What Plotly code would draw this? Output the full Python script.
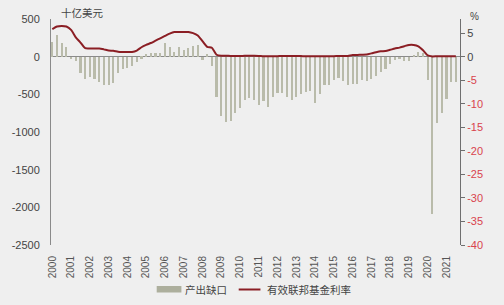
import plotly.graph_objects as go

years = list(range(2000, 2022))
quarters = [f"{y}Q{q}" for y in years for q in range(1, 5)][:87]

output_gap = [
    190, 285, 180, 130,
    -35, -55, -220, -290,
    -270, -290, -335, -380,
    -380, -350, -220, -160,
    -150, -120, -70, -25,
    40, 55, 55, 55,
    175, 130, 65, 125,
    93, 110, 138, 155,
    -40, 35, -130, -540,
    -790, -870, -855, -745,
    -680, -570, -550, -575,
    -635, -590, -665, -535,
    -480, -480, -530, -580,
    -530, -500, -470, -455,
    -610, -490, -370, -375,
    -315, -285, -320, -377,
    -365, -365, -306, -320,
    -297, -262, -209, -164,
    -100, -50, -30, -55,
    -60, 10, 65, 50,
    -310, -2090, -880, -745,
    -558, -337, -337,
]

fed_funds = [
    5.85, 6.4, 6.5, 6.4,
    5.7, 4.1, 3.0, 1.8,
    1.75, 1.75, 1.75, 1.55,
    1.3, 1.25, 1.05, 1.0,
    1.0, 1.0, 1.3, 2.0,
    2.5, 2.9, 3.4, 3.9,
    4.4, 4.9, 5.25, 5.25,
    5.25, 5.25, 5.0, 4.5,
    3.3, 2.1, 1.9, 0.4,
    0.18, 0.18, 0.16, 0.12,
    0.13, 0.19, 0.19, 0.19,
    0.16, 0.09, 0.08, 0.07,
    0.10, 0.15, 0.14, 0.16,
    0.14, 0.12, 0.08, 0.09,
    0.07, 0.09, 0.09, 0.10,
    0.11, 0.13, 0.14, 0.16,
    0.36, 0.37, 0.40, 0.45,
    0.70, 0.95, 1.15, 1.20,
    1.45, 1.74, 1.92, 2.22,
    2.50, 2.50, 2.20, 1.35,
    0.25, 0.06, 0.09, 0.09,
    0.08, 0.07, 0.08,
]

left_ticks = [500, 0, -500, -1000, -1500, -2000, -2500]
right_ticks = [5, 0, -5, -10, -15, -20, -25, -30, -35, -40]
year_labels = [str(y) for y in years]

x_vals = [int(q[:4]) + (int(q[-1]) - 1) / 4 for q in quarters]

BG = "#efefef"
BAR = "#b9bbaa"
LINE = "#8b1e24"
RED = "#d9434d"
GREY_TXT = "#444444"
FONT = "Liberation Sans, Arial, sans-serif"
CJK = "Noto Sans CJK SC, sans-serif"

fig = go.Figure()
fig.add_trace(go.Bar(x=x_vals, y=output_gap, marker=dict(color=BAR, line=dict(width=0)),
                     width=0.115, name="产出缺口", showlegend=False, yaxis="y"))
fig.add_trace(go.Scatter(x=x_vals, y=fed_funds, mode="lines",
                         line=dict(color=LINE, width=2, shape="spline", smoothing=0.6),
                         name="有效联邦基金利率", showlegend=False, yaxis="y2"))

right_text = []
for t in right_ticks:
    if t >= 0:
        right_text.append(str(t))
    else:
        right_text.append(f"<span style='color:{RED}'>{t}</span>")

W, H = 504, 305
L, R, T, B = 46, 44, 19, 60
pw, ph = W - L - R, H - T - B

def px(xp):
    return (xp - L) / pw

def py(yp):
    return (H - B - yp) / ph

fig.update_layout(
    width=W, height=H,
    margin=dict(l=L, r=R, t=T, b=B),
    paper_bgcolor=BG, plot_bgcolor=BG,
    bargap=0,
    xaxis=dict(range=[2000 - 0.07, 2021.72], tickmode="array",
               tickvals=years, ticktext=year_labels, tickangle=-90,
               tickfont=dict(family=FONT, size=10, color="#555555"),
               showgrid=False, zeroline=False, showline=False,
               ticks="outside", ticklen=6, tickcolor=BG),
    yaxis=dict(range=[-2500, 500], tickmode="array", tickvals=left_ticks,
               ticktext=[str(t) for t in left_ticks],
               tickfont=dict(family=FONT, size=11, color=GREY_TXT),
               showgrid=False, zeroline=True, zerolinecolor="#8a8a8a", zerolinewidth=1,
               showline=True, linecolor="#8a8a8a", linewidth=1,
               ticks="outside", ticklen=8, tickcolor="rgba(0,0,0,0)"),
    yaxis2=dict(range=[-40, 8], overlaying="y", side="right", tickmode="array",
                tickvals=right_ticks, ticktext=right_text,
                tickfont=dict(family=FONT, size=11, color=GREY_TXT),
                showgrid=False, zeroline=False,
                showline=True, linecolor="#6f6f6f", linewidth=1,
                ticks="outside", ticklen=4, tickcolor="#6f6f6f"),
    shapes=[
        dict(type="rect", xref="paper", yref="paper",
             x0=px(153), x1=px(178), y0=py(292.5), y1=py(286), fillcolor="#adaf9d",
             line=dict(width=0)),
        dict(type="line", xref="paper", yref="paper",
             x0=px(236), x1=px(258), y0=py(289.5), y1=py(289.5),
             line=dict(color=LINE, width=2)),
    ],
    annotations=[
        dict(text="十亿美元", xref="paper", yref="paper", x=px(54), y=py(12),
             xanchor="left", yanchor="middle", showarrow=False,
             font=dict(family=CJK, size=10.5, color=GREY_TXT)),
        dict(text="%", xref="paper", yref="paper", x=px(475), y=py(16),
             xanchor="center", yanchor="middle", showarrow=False,
             font=dict(family=FONT, size=10, color=GREY_TXT)),
        dict(text="产出缺口", xref="paper", yref="paper", x=px(180), y=py(289.5),
             xanchor="left", yanchor="middle", showarrow=False,
             font=dict(family=CJK, size=10.5, color=GREY_TXT)),
        dict(text="有效联邦基金利率", xref="paper", yref="paper", x=px(263), y=py(289.5),
             xanchor="left", yanchor="middle", showarrow=False,
             font=dict(family=CJK, size=10.5, color=GREY_TXT)),
    ],
)

fig.write_html("out.html")
